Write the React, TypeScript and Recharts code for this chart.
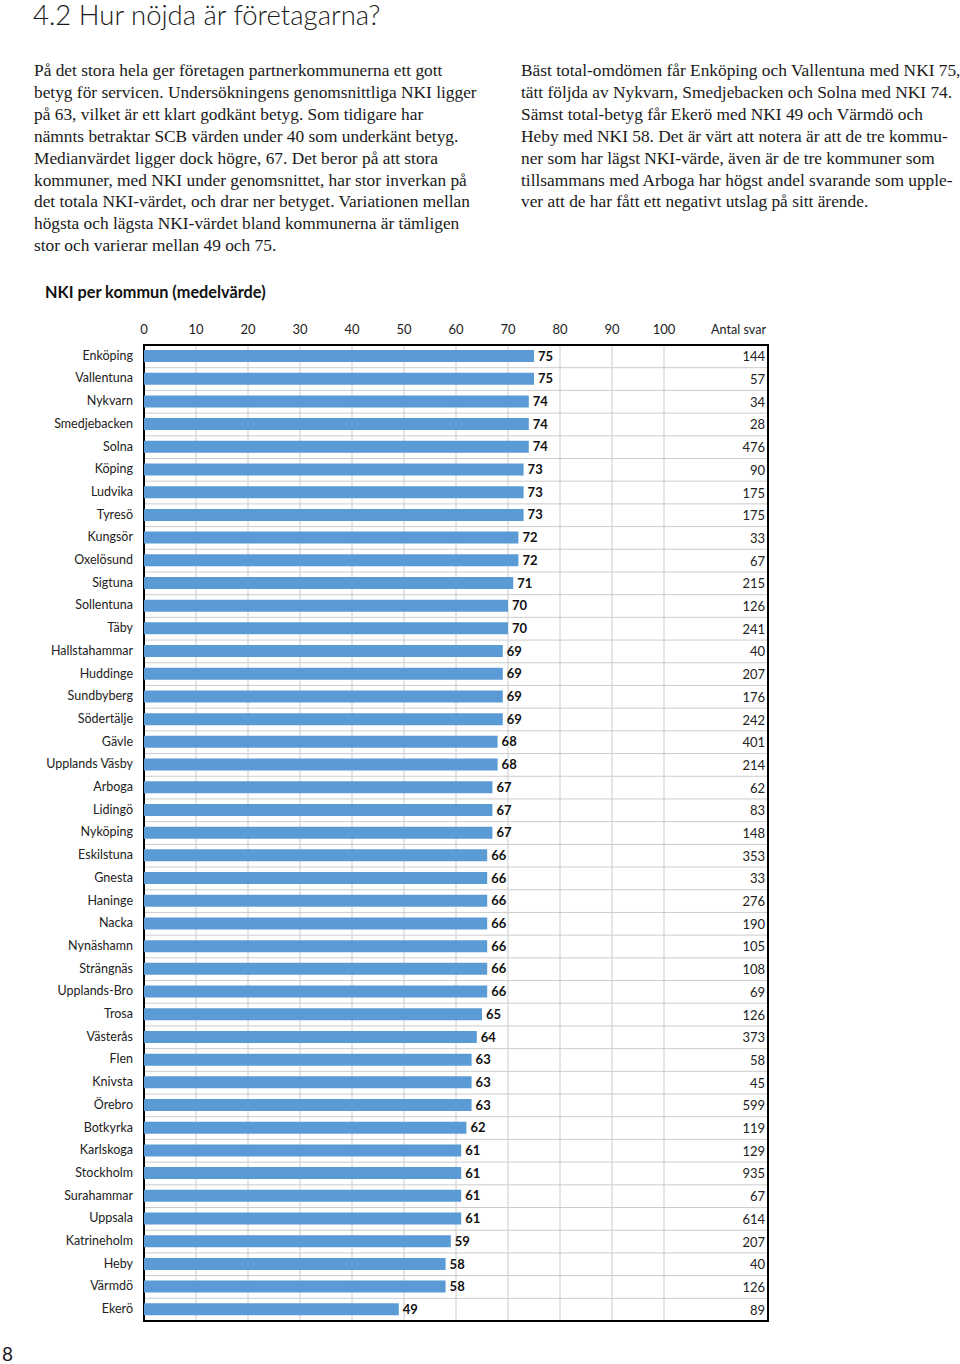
import React from "react";
import {
  BarChart,
  Bar,
  XAxis,
  YAxis,
  CartesianGrid,
  LabelList,
  ReferenceArea,
} from "recharts";

// kommuner, sorted as in the report
const kommuner = [
  "Enköping", "Vallentuna", "Nykvarn", "Smedjebacken", "Solna", "Köping", "Ludvika",
  "Tyresö", "Kungsör", "Oxelösund", "Sigtuna", "Sollentuna", "Täby", "Hallstahammar",
  "Huddinge", "Sundbyberg", "Södertälje", "Gävle", "Upplands Väsby", "Arboga", "Lidingö",
  "Nyköping", "Eskilstuna", "Gnesta", "Haninge", "Nacka", "Nynäshamn", "Strängnäs",
  "Upplands-Bro", "Trosa", "Västerås", "Flen", "Knivsta", "Örebro", "Botkyrka",
  "Karlskoga", "Stockholm", "Surahammar", "Uppsala", "Katrineholm", "Heby", "Värmdö",
  "Ekerö",
];

const nkiValues = [
  75, 75, 74, 74, 74, 73, 73, 73, 72, 72, 71, 70, 70, 69, 69, 69, 69, 68, 68, 67, 67,
  67, 66, 66, 66, 66, 66, 66, 66, 65, 64, 63, 63, 63, 62, 61, 61, 61, 61, 59, 58, 58,
  49,
];

const antalSvar = [
  144, 57, 34, 28, 476, 90, 175, 175, 33, 67, 215, 126, 241, 40, 207, 176, 242, 401,
  214, 62, 83, 148, 353, 33, 276, 190, 105, 108, 69, 126, 373, 58, 45, 599, 119, 129,
  935, 67, 614, 207, 40, 126, 89,
];

const xTicks = [0, 10, 20, 30, 40, 50, 60, 70, 80, 90, 100, 120];

const leftText = [
  "På det stora hela ger företagen partnerkommunerna ett gott",
  "betyg för servicen. Undersökningens genomsnittliga NKI ligger",
  "på 63, vilket är ett klart godkänt betyg. Som tidigare har",
  "nämnts betraktar SCB värden under 40 som underkänt betyg.",
  "Medianvärdet ligger dock högre, 67. Det beror på att stora",
  "kommuner, med NKI under genomsnittet, har stor inverkan på",
  "det totala NKI-värdet, och drar ner betyget. Variationen mellan",
  "högsta och lägsta NKI-värdet bland kommunerna är tämligen",
  "stor och varierar mellan 49 och 75.",
];

const rightText = [
  "Bäst total-omdömen får Enköping och Vallentuna med NKI 75,",
  "tätt följda av Nykvarn, Smedjebacken och Solna med NKI 74.",
  "Sämst total-betyg får Ekerö med NKI 49 och Värmdö och",
  "Heby med NKI 58. Det är värt att notera är att de tre kommu-",
  "ner som har lägst NKI-värde, även är de tre kommuner som",
  "tillsammans med Arboga har högst andel svarande som upple-",
  "ver att de har fått ett negativt utslag på sitt ärende.",
];

const data = kommuner.map((name, i) => ({
  name,
  nki: nkiValues[i],
  svar: antalSvar[i],
}));

const sans = "Lato, 'Noto Sans', sans-serif";
const serif = "'Liberation Serif', serif";

const TopTick = (props: any) => {
  const { x, y, payload } = props;
  if (payload.value === 120) {
    return (
      <text x={x - 2} y={y} textAnchor="end" fontFamily={sans} fontSize={12.6} fill="#222">
        Antal svar
      </text>
    );
  }
  return (
    <text x={x} y={y} textAnchor="middle" fontFamily={sans} fontSize={13} fill="#222">
      {payload.value}
    </text>
  );
};

const SvarTick = (props: any) => {
  const { x, y, payload } = props;
  const idx = kommuner.indexOf(payload.value);
  return (
    <text x={x - 3} y={y} dy={5} textAnchor="end" fontFamily={sans} fontSize={13} fill="#222">
      {antalSvar[idx]}
    </text>
  );
};

const rowBoundaries = (args: any) => {
  const o = args.offset;
  const n = kommuner.length;
  const step = o.height / n;
  return Array.from({ length: n - 1 }, (_, i) => o.top + (i + 1) * step);
};

export default function App() {
  return (
    <div style={{ position: "absolute", left: 0, top: 0, width: 960, height: 1364, background: "#fff" }}>
      <div
        style={{
          position: "absolute",
          left: 33,
          top: -3,
          fontFamily: sans,
          fontSize: 27.5,
          fontWeight: 300,
          color: "#1a1a1a",
          lineHeight: "36px",
        }}
      >
        4.2 Hur nöjda är företagarna?
      </div>

      <div
        style={{
          position: "absolute",
          left: 34,
          top: 60,
          fontFamily: serif,
          fontSize: 17.35,
          lineHeight: "21.9px",
          color: "#1a1a1a",
          whiteSpace: "nowrap",
        }}
      >
        {leftText.map((l) => (
          <div key={l}>{l}</div>
        ))}
      </div>

      <div
        style={{
          position: "absolute",
          left: 521,
          top: 60,
          fontFamily: serif,
          fontSize: 17.35,
          lineHeight: "21.9px",
          color: "#1a1a1a",
          whiteSpace: "nowrap",
        }}
      >
        {rightText.map((l) => (
          <div key={l}>{l}</div>
        ))}
      </div>

      <div
        style={{
          position: "absolute",
          left: 45,
          top: 281,
          fontFamily: sans,
          fontSize: 16.3,
          fontWeight: 700,
          color: "#111",
          lineHeight: "22px",
        }}
      >
        NKI per kommun (medelvärde)
      </div>

      <div style={{ position: "absolute", left: 0, top: 0 }}>
        <BarChart
          width={960}
          height={1364}
          data={data}
          layout="vertical"
          margin={{ top: 315, right: 182, bottom: 43, left: 0 }}
          barCategoryGap={0}
        >
          <CartesianGrid
            stroke="#cccccc"
            strokeWidth={1}
            horizontalCoordinatesGenerator={rowBoundaries}
          />
          <XAxis
            type="number"
            orientation="top"
            domain={[0, 120]}
            ticks={xTicks}
            height={30}
            axisLine={false}
            tickLine={false}
            tickSize={0}
            tickMargin={11}
            tick={<TopTick />}
            interval={0}
          />
          <YAxis
            yAxisId="left"
            type="category"
            dataKey="name"
            width={144}
            axisLine={false}
            tickLine={false}
            tickSize={0}
            tickMargin={11}
            interval={0}
            tick={{ fontFamily: sans, fontSize: 12.5, fill: "#222", dy: -1 }}
          />
          <YAxis
            yAxisId="right"
            orientation="right"
            type="category"
            dataKey="name"
            width={10}
            axisLine={false}
            tickLine={false}
            tickSize={0}
            tickMargin={0}
            interval={0}
            tick={<SvarTick />}
          />
          <Bar yAxisId="left" dataKey="nki" fill="#5b9bd5" barSize={12} isAnimationActive={false}>
            <LabelList
              dataKey="nki"
              position="right"
              offset={4}
              style={{ fontFamily: sans, fontSize: 13, fontWeight: 700, fill: "#111" }}
            />
          </Bar>
          <ReferenceArea
            yAxisId="left"
            x1={0}
            x2={120}
            fill="none"
            stroke="#000"
            strokeWidth={2}
            ifOverflow="extendDomain"
          />
        </BarChart>
      </div>

      <div
        style={{
          position: "absolute",
          left: 2,
          top: 1342,
          fontFamily: sans,
          fontSize: 19,
          color: "#1a1a1a",
          lineHeight: "24px",
        }}
      >
        8
      </div>
    </div>
  );
}
